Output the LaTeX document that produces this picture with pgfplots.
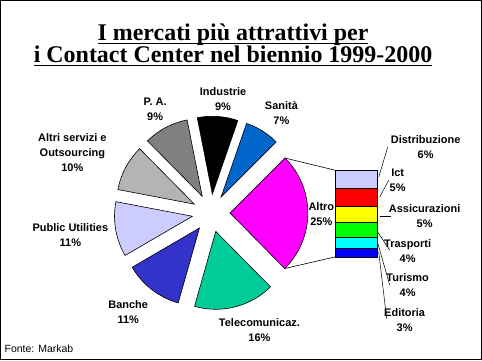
\documentclass[border=0pt]{standalone}
\usepackage{pgfplots}
\pgfplotsset{compat=1.18}
\usepackage{pgfplotstable}
\usepackage{fontspec}
\setmainfont{Liberation Sans}
\newfontfamily\titlefont{Liberation Serif}
\definecolor{s0}{HTML}{0066CC}
\definecolor{s1}{HTML}{000000}
\definecolor{s2}{HTML}{808080}
\definecolor{s3}{HTML}{B4B4B4}
\definecolor{s4}{HTML}{CCCCFF}
\definecolor{s5}{HTML}{3333CC}
\definecolor{s6}{HTML}{00CC99}
\definecolor{s7}{HTML}{FF00FF}
\definecolor{bcyan}{HTML}{00FFFF}
\definecolor{bgreen}{HTML}{00FF00}
\definecolor{bblue}{HTML}{0000FF}
\definecolor{bred}{HTML}{FF0000}
\definecolor{byellow}{HTML}{FFFF00}
\newcommand\ulx[1]{\setbox0=\hbox{#1}\rlap{\rule[-4pt]{\wd0}{1.6pt}}\box0}
\pgfplotstableread{
name value
Sanita 7.2
Industrie 8.4
PA 9.3
Altri 9.6
PU 11.4
Banche 12.2
Telecom 16.8
Altro 25.1
}\pietable
\begin{document}
\begin{tikzpicture}[lbl/.style={font=\bfseries\fontsize{11}{15}\selectfont, align=center, inner sep=0pt}]
\begin{axis}[at={(0,0)}, anchor=south west, scale only axis, width=482pt, height=360pt,
  xmin=0, xmax=482, ymin=0, ymax=360, axis line style={line width=1pt},
  xtick=\empty, ytick=\empty, clip=false]
\pgfmathsetmacro\cum{45}
\pgfplotsforeachungrouped \i in {0,...,7}{%
  \pgfplotstablegetelem{\i}{value}\of\pietable
  \pgfmathsetmacro\sA{\cum}%
  \pgfmathsetmacro\sB{\cum+3.6*\pgfplotsretval}%
  \pgfmathsetmacro\cx{211+19*cos((\sA+\sB)/2)}%
  \pgfmathsetmacro\cy{147+19*sin((\sA+\sB)/2)}%
  \edef\temp{\noexpand\addplot[fill=s\i, draw=black, line width=0.6pt, domain=\sA:\sB, samples=60, variable=\noexpand\t] ({\cx+78*cos(\noexpand\t)},{\cy+78*sin(\noexpand\t)}) -- (axis cs:\cx,\cy) -- cycle;}%
  \temp
  \global\let\cum\sB
}
% connectors to bar
\addplot[black, line width=0.6pt] coordinates {(285.2,202.1) (335,190)};
\addplot[black, line width=0.6pt] coordinates {(284.8,91.4) (335,103)};
% title
\node[anchor=base, font=\titlefont\bfseries\fontsize{24}{28}\selectfont] at (axis cs:233,320) {\ulx{I mercati più attrattivi per}};
\node[anchor=base, font=\titlefont\bfseries\fontsize{24}{28}\selectfont] at (axis cs:233,298) {\ulx{i Contact Center nel biennio 1999-2000}};
% pie labels
\node[lbl] at (axis cs:223,261.5) {Industrie\\9\%};
\node[lbl] at (axis cs:155,251) {P. A.\\9\%};
\node[lbl] at (axis cs:281.5,247) {Sanità\\7\%};
\node[lbl] at (axis cs:72,207.5) {Altri servizi e\\Outsourcing\\10\%};
\node[lbl] at (axis cs:70,124.5) {Public Utilities\\11\%};
\node[lbl] at (axis cs:128,47.5) {Banche\\11\%};
\node[lbl] at (axis cs:259.5,30) {Telecomunicaz.\\16\%};
\node[lbl] at (axis cs:321.5,145.5) {Altro\\25\%};
% bar labels
\node[lbl] at (axis cs:426,213.5) {Distribuzione\\6\%};
\node[lbl] at (axis cs:398,179.5) {Ict\\5\%};
\node[lbl] at (axis cs:425,143.5) {Assicurazioni\\5\%};
\node[lbl] at (axis cs:408,108.5) {Trasporti\\4\%};
\node[lbl] at (axis cs:408,74.5) {Turismo\\4\%};
\node[lbl] at (axis cs:405,39.5) {Editoria\\3\%};
\draw[black, line width=0.5pt] (axis cs:379,183) -- (axis cs:388,213);
\draw[black, line width=0.5pt] (axis cs:380,163) -- (axis cs:389,180);
\draw[black, line width=0.5pt] (axis cs:380,144) -- (axis cs:391,144);
\draw[black, line width=0.5pt] (axis cs:378,128) -- (axis cs:390,110);
\draw[black, line width=0.5pt] (axis cs:378,117) -- (axis cs:390,75);
\draw[black, line width=0.5pt] (axis cs:379,108) -- (axis cs:387,41);
% source
\node[anchor=base west, font=\fontsize{10.5}{12}\selectfont, inner sep=0pt] at (axis cs:4,7) {Fonte: Markab};
\end{axis}
\begin{axis}[at={(335pt,103pt)}, anchor=south west, scale only axis, width=43pt, height=87pt,
  xmin=0.5, xmax=1.5, ymin=0, ymax=27.1, ybar stacked, bar width=43pt, hide axis, clip=false,
  enlargelimits=false]
\addplot[fill=bblue, draw=black, line width=0.6pt] coordinates {(1,2.8)};
\addplot[fill=bcyan, draw=black, line width=0.6pt] coordinates {(1,3.4)};
\addplot[fill=bgreen, draw=black, line width=0.6pt] coordinates {(1,4.7)};
\addplot[fill=byellow, draw=black, line width=0.6pt] coordinates {(1,5.0)};
\addplot[fill=bred, draw=black, line width=0.6pt] coordinates {(1,5.6)};
\addplot[fill=s4, draw=black, line width=0.6pt] coordinates {(1,5.6)};
\end{axis}
\end{tikzpicture}
\end{document}
